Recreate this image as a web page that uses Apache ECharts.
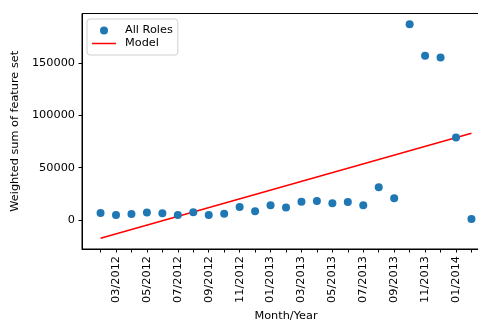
<!DOCTYPE html>
<html>
<head>
<meta charset="utf-8">
<script src="https://cdn.jsdelivr.net/npm/echarts@6/dist/echarts.min.js"></script>
<style>
html,body{margin:0;padding:0;background:#fff;}
#chart{width:478px;height:320px;}
</style>
</head>
<body>
<div id="chart"></div>
<script>
// Month labels (index 0 = 02/2012 ... index 24 = 02/2014)
var months = ['02/2012','03/2012','04/2012','05/2012','06/2012','07/2012','08/2012','09/2012','10/2012','11/2012','12/2012',
  '01/2013','02/2013','03/2013','04/2013','05/2013','06/2013','07/2013','08/2013','09/2013','10/2013','11/2013','12/2013',
  '01/2014','02/2014'];
// Weighted sum of feature set per month
var allRoles = [6700,4800,5700,7000,6300,4800,7300,4800,6000,12400,8200,
  14000,11800,17500,18100,15900,17200,14000,31200,20700,187500,157300,155700,
  78900,1000];
// Model line endpoints (first and last month)
var modelStart = -17600;
var modelEnd = 83100;
var yTicks = [0,50000,100000,150000];
var xTickIdx = [];
for (var i = 0; i < months.length; i++) xTickIdx.push(i);
var xLabelIdx = [];
for (var j = 1; j < months.length; j += 2) xLabelIdx.push(j);

var scatterData = allRoles.map(function(v, i){ return [i, v]; });
var modelData = [[0, modelStart], [months.length - 1, modelEnd]];

var font = 'DejaVu Sans';
var fs = 11.3;
var chart = echarts.init(document.getElementById('chart'), null, {renderer:'canvas'});
chart.setOption({
  animation: false,
  backgroundColor: '#fff',
  textStyle: {fontFamily: font},
  grid: {left: 82, top: 13.5, width: 408, height: 235.5, show: true, borderColor: '#000', borderWidth: 1,
    backgroundColor: 'transparent', containLabel: false, outerBoundsMode: 'none'},
  legend: {
    left: 87, top: 19, orient: 'vertical',
    padding: [6, 5, 6, 5], itemGap: 2,
    itemWidth: 24, itemHeight: 8,
    backgroundColor: '#fff', borderColor: '#d0d0d0', borderWidth: 1, borderRadius: 3,
    textStyle: {fontFamily: font, fontSize: fs, color: '#000', padding: [0,0,0,4]},
    data: [{name: 'All Roles', icon: 'circle'}, {name: 'Model', icon: 'path://M0,0H24V1.5H0Z'}]
  },
  xAxis: {
    type: 'value', min: -1.2, max: 25.2,
    name: 'Month/Year', nameLocation: 'middle', nameGap: 60,
    nameTextStyle: {fontFamily: font, fontSize: fs, color: '#000'},
    axisLine: {show: true, onZero: false, lineStyle: {color: '#000', width: 1}},
    axisTick: {show: true, length: 3.5, lineStyle: {color: '#000', width: 1}, customValues: xTickIdx},
    axisLabel: {show: true, rotate: 90, margin: 7, fontFamily: font, fontSize: fs, color: '#000',
      customValues: xLabelIdx, formatter: function(v){ return months[Math.round(v)] || ''; }},
    splitLine: {show: false}
  },
  yAxis: {
    type: 'value', min: -27855, max: 197755,
    name: 'Weighted sum of feature set', nameLocation: 'middle', nameGap: 47,
    nameTextStyle: {fontFamily: font, fontSize: fs, color: '#000'},
    axisLine: {show: true, onZero: false, lineStyle: {color: '#000', width: 1}},
    axisTick: {show: true, length: 3.5, lineStyle: {color: '#000', width: 1}, customValues: yTicks},
    axisLabel: {show: true, margin: 7, fontFamily: font, fontSize: fs, color: '#000', customValues: yTicks,
      formatter: function(v){ return String(Math.round(v)); }},
    splitLine: {show: false}
  },
  series: [
    {name: 'All Roles', type: 'scatter', data: scatterData, symbolSize: 8,
      itemStyle: {color: '#1f77b4', opacity: 1}, z: 3},
    {name: 'Model', type: 'line', data: modelData, symbol: 'none', showSymbol: false,
      lineStyle: {color: '#ff0000', width: 1.5}, itemStyle: {color: '#ff0000'}, z: 2}
  ]
});
</script>
</body>
</html>
